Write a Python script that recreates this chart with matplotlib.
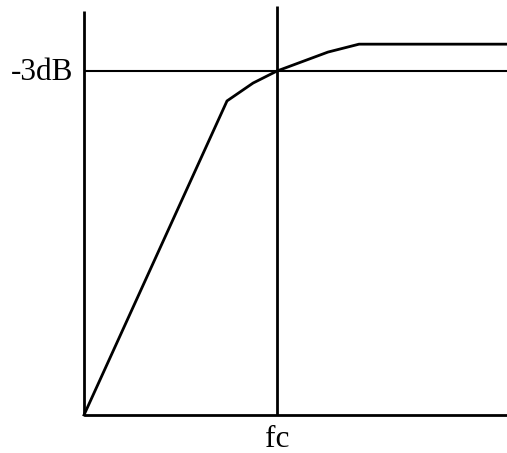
"""Sketch of a high-pass style gain curve with the -3dB cutoff marked at fc."""
import matplotlib
matplotlib.use("Agg")
import matplotlib.pyplot as plt

# normalised units: x=1 is fc, y=1 is the -3dB level
freq = [0.0, 0.741, 0.876, 1.0, 1.264, 1.425, 2.19]
gain = [0.0, 0.913, 0.965, 1.0, 1.055, 1.078, 1.078]
x_end = 2.19
y_axis_top = 1.174
fc_top = 1.189
label_3db = "-3dB"
label_fc = "fc"

plt.rcParams['font.family'] = ['Liberation Serif', 'DejaVu Serif']

fig = plt.figure(figsize=(5.07, 4.53), dpi=100)
ax = fig.add_axes([0, 0, 1, 1])
ax.set_xlim(-84 / 193, 423 / 193)
ax.set_ylim(-38 / 344, 415 / 344)
ax.axis('off')

LW = 2.0
# axes
ax.plot([0, 0], [0, y_axis_top], color='black', lw=LW, solid_capstyle='butt')
ax.plot([0, x_end], [0, 0], color='black', lw=LW, solid_capstyle='butt')
# -3dB level and fc marker
ax.plot([0, x_end], [1, 1], color='black', lw=1.5, solid_capstyle='butt')
ax.plot([1, 1], [0, fc_top], color='black', lw=LW, solid_capstyle='butt')
# response curve
ax.plot(freq, gain, color='black', lw=LW, solid_joinstyle='miter')

ax.text(-0.057, 0.974, label_3db, ha='right', va='baseline', fontsize=22.5)
ax.text(1.0, -0.093, label_fc, ha='center', va='baseline', fontsize=22.5)

fig.savefig("out.png", dpi=100)
